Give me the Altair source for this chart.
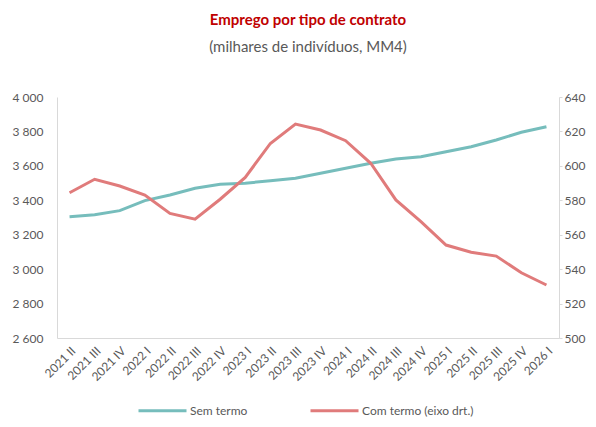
import altair as alt
import pandas as pd

quarters = ["2021 II", "2021 III", "2021 IV", "2022 I", "2022 II", "2022 III", "2022 IV",
            "2023 I", "2023 II", "2023 III", "2023 IV", "2024 I", "2024 II", "2024 III",
            "2024 IV", "2025 I", "2025 II", "2025 III", "2025 IV", "2026 I"]
sem_termo = [3305, 3316, 3340, 3398, 3431, 3470, 3493, 3499, 3514, 3528,
             3557, 3586, 3615, 3640, 3653, 3682, 3711, 3750, 3795, 3827]
com_termo = [584.4, 592.2, 588.3, 583.0, 572.4, 569.0, 580.6, 593.3, 613.0, 624.3,
             620.8, 614.6, 601.5, 580.2, 567.6, 554.0, 549.8, 547.6, 537.9, 530.8]
series_names = ["Sem termo", "Com termo (eixo drt.)"]
colors = ["#76BDBC", "#E07B7B"]
left_ticks = [2600, 2800, 3000, 3200, 3400, 3600, 3800, 4000]
right_ticks = [500, 520, 540, 560, 580, 600, 620, 640]

df = pd.DataFrame({
    "quarter": quarters * 2,
    "series": [series_names[0]] * len(quarters) + [series_names[1]] * len(quarters),
    "value": sem_termo + com_termo,
})

FONT = "Lato"
GRAY = "#595959"
AXC = "#d9d9d9"

x = alt.X("quarter:N", sort=quarters, title=None,
          axis=alt.Axis(labelAngle=-45, ticks=False, domainColor=AXC, labelColor=GRAY,
                        labelFontSize=12, labelFont=FONT, labelPadding=7))
color = alt.Color("series:N", title=None,
                  scale=alt.Scale(domain=series_names, range=colors),
                  legend=alt.Legend(orient="none", direction="horizontal",
                                    legendX=80, legendY=288,
                                    symbolType="stroke", symbolSize=2304,
                                    symbolStrokeWidth=3, labelOffset=2,
                                    columnPadding=56, labelFont=FONT,
                                    labelFontSize=12, labelColor=GRAY))

left = alt.Chart(df).transform_filter(
    alt.datum.series == series_names[0]
).mark_line(strokeWidth=3).encode(
    x=x,
    y=alt.Y("value:Q", title=None,
            scale=alt.Scale(domain=[2600, 4000], nice=False, zero=False),
            axis=alt.Axis(values=left_ticks, grid=False, ticks=False, domainColor=AXC,
                          labelColor=GRAY, labelFontSize=12, labelFont=FONT, labelPadding=14,
                          labelExpr="replace(format(datum.value, ','), ',', ' ')")),
    color=color,
)

right = alt.Chart(df).transform_filter(
    alt.datum.series == series_names[1]
).mark_line(strokeWidth=3).encode(
    x=x,
    y=alt.Y("value:Q", title=None,
            scale=alt.Scale(domain=[500, 640], nice=False, zero=False),
            axis=alt.Axis(orient="right", values=right_ticks, grid=False, tickSize=3,
                          tickColor=AXC, domainColor=AXC, labelColor=GRAY,
                          labelFontSize=12, labelFont=FONT, labelPadding=2)),
    color=color,
)

chart = alt.layer(left, right).resolve_scale(y="independent").properties(
    width=502, height=241,
    autosize=alt.AutoSizeParams(type="none"),
    padding={"left": 49, "top": 89, "right": 29, "bottom": 81},
    title=alt.Title("Emprego por tipo de contrato",
                    subtitle="(milhares de indivíduos, MM4)",
                    anchor="middle", frame="group", offset=36,
                    font=FONT, fontSize=15, fontWeight="bold", color="#C00000",
                    subtitleFont=FONT, subtitleFontSize=15, subtitleColor=GRAY,
                    subtitlePadding=12),
).configure_view(stroke=None)

chart.save("out.html", embed_options={"renderer": "svg", "actions": False})
